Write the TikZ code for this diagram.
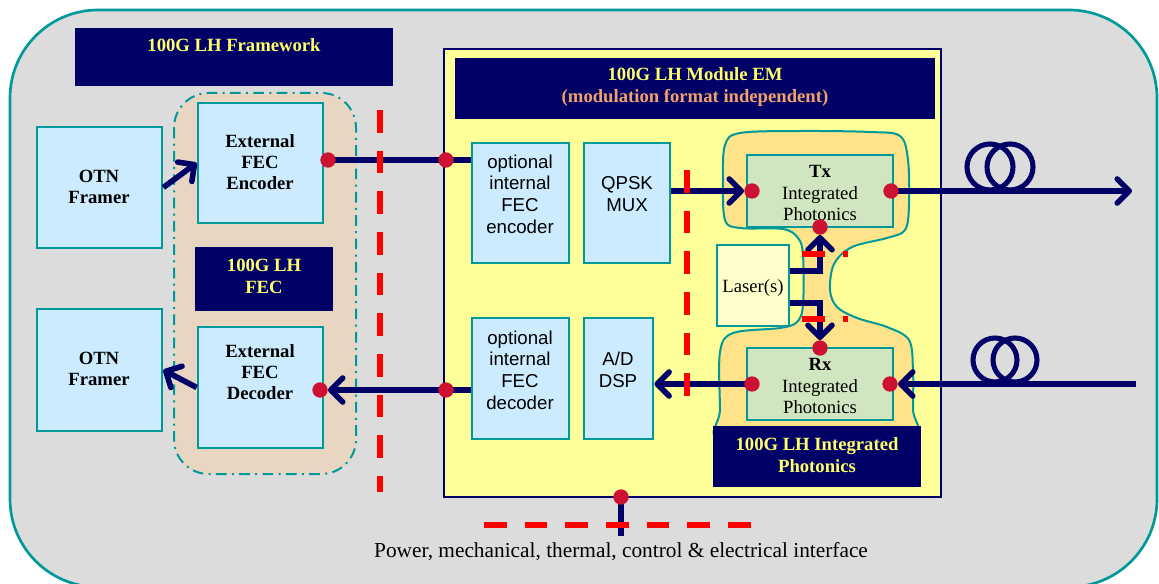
\documentclass[tikz,border=0pt]{standalone}
\usepackage{fontspec}
\setmainfont{Liberation Serif}
\newfontfamily\arialfont{Liberation Sans}
\usetikzlibrary{arrows.meta,fit,calc}
\definecolor{bggray}{HTML}{DCDCDC}
\definecolor{tealc}{HTML}{009999}
\definecolor{navyc}{HTML}{000066}
\definecolor{yelc}{HTML}{FFFF66}
\definecolor{salmonc}{HTML}{F4A06A}
\definecolor{lblue}{HTML}{CCEBFF}
\definecolor{tanc}{HTML}{E8D6C3}
\definecolor{modyel}{HTML}{FFFF99}
\definecolor{bloborange}{HTML}{FFE38A}
\definecolor{greenc}{HTML}{D0E6C0}
\definecolor{laserc}{HTML}{FFFFCC}
\definecolor{dotred}{HTML}{CC1133}
\definecolor{redc}{HTML}{FF0000}
\pgfdeclarelayer{front}
\pgfsetlayers{main,front}
\tikzset{
  bluebox/.style={draw=tealc, line width=2pt, fill=lblue, inner sep=0pt},
  greenbox/.style={draw=tealc, line width=2pt, fill=greenc, inner sep=0pt},
  navybox/.style={fill=navyc, inner sep=0pt},
  ytext/.style={text=yelc, font=\bfseries\fontsize{14pt}{16.5pt}\selectfont, align=center},
  btext/.style={font=\bfseries\fontsize{14pt}{16pt}\selectfont, align=center},
  stext/.style={font=\arialfont\fontsize{14pt}{16.3pt}\selectfont, align=center},
  rtext/.style={font=\fontsize{14pt}{16pt}\selectfont, align=center},
  conn/.style={draw=navyc, line width=4.2pt},
  arrowtip/.style={-{Straight Barb[length=9pt,width=18pt,round]}},
  reddot/.style={circle, fill=dotred, inner sep=0pt, minimum size=11.5pt},
  reddash/.style={draw=redc, line width=4pt, dash pattern=on 17pt off 13.5pt},
}
\begin{document}
\begin{tikzpicture}[x=0.75pt,y=-0.75pt]
\useasboundingbox (0,0) rectangle (1159,584);
% outer frame
\draw[draw=tealc, line width=2pt, fill=bggray, rounded corners=66pt] (10,10) rectangle (1157,587);
% framework title
\node[navybox, fit={(75,28)(393,86)}] (fwbox) {};
\node[ytext] (fwtext) at (234,45) {100G LH Framework};
% FEC region
\draw[draw=tealc, line width=1.5pt, fill=tanc, rounded corners=26pt,
  dash pattern=on 8pt off 4pt on 1.5pt off 4pt] (174,93) rectangle (356,474);
% OTN framers
\node[bluebox, fit={(37,127)(162,248)}] (otn1) {};
\node[btext] (otn1text) at (99,187) {OTN\\Framer};
\node[bluebox, fit={(37,309)(162,431)}] (otn2) {};
\node[btext] (otn2text) at (99,369) {OTN\\Framer};
% external FEC
\node[bluebox, fit={(198,103)(323,223)}] (extenc) {};
\node[btext] (extenctext) at (260,162) {External\\FEC\\Encoder};
\node[bluebox, fit={(198,327)(323,448)}] (extdec) {};
\node[btext] (extdectext) at (260,372) {External\\FEC\\Decoder};
\node[navybox, fit={(195,247)(333,311)}] (fecbox) {};
\node[ytext] (fectext) at (264,276) {100G LH\\FEC};
% module
\node[draw=navyc, line width=1.5pt, fill=modyel, inner sep=0pt, fit={(444,49)(941,497)}] (module) {};
\node[navybox, fit={(455,58)(935,119)}] (modtitlebox) {};
\node[font=\bfseries\fontsize{14pt}{17pt}\selectfont, align=center] (modtitle) at (695,87)
  {\textcolor{yelc}{100G LH Module EM}\\\textcolor{salmonc}{(modulation format independent)}};
% internal blocks
\node[bluebox, fit={(472,143)(569,263)}] (optenc) {};
\node[stext] (optenctext) at (520,194) {optional\\internal\\FEC\\encoder};
\node[bluebox, fit={(584,143)(670,263)}] (qpsk) {};
\node[stext] (qpsktext) at (627,194) {QPSK\\MUX};
\node[bluebox, fit={(472,318)(569,439)}] (optdec) {};
\node[stext] (optdectext) at (520,370) {optional\\internal\\FEC\\decoder};
\node[bluebox, fit={(584,318)(653,439)}] (adsp) {};
\node[stext] (adsptext) at (618,370) {A/D\\DSP};
% integrated photonics blob
\draw[draw=tealc, line width=1.5pt, fill=bloborange] plot[smooth cycle, tension=0.55] coordinates {
 (740,133) (800,131) (870,132) (900,136) (908,160) (909,205) (905,230) (887,238) (852,247)
 (834,264) (830,290) (837,307) (857,318) (887,327) (909,340) (913,370) (913,410) (913,440)
 (816,445) (720,440) (720,410) (720,352) (733,333) (780,328) (797,322) (803,305) (803,255)
 (798,238) (783,229) (740,228) (725,220) (723,180) (725,145)};
\node[greenbox, fit={(747,155)(893,227)}] (tx) {};
\node[rtext] (txtext) at (820,193) {\textbf{Tx}\\Integrated\\Photonics};
\node[greenbox, fit={(747,348)(893,420)}] (rx) {};
\node[rtext] (rxtext) at (820,386) {\textbf{Rx}\\Integrated\\Photonics};
\node[draw=tealc, line width=2pt, fill=laserc, inner sep=0pt, fit={(717,245)(789,326)}] (laser) {};
\node[rtext] (lasertext) at (753,288) {Laser(s)};
\node[navybox, fit={(713,426)(921,487)}] (ipbox) {};
\node[ytext] (iptext) at (817,455) {100G LH Integrated\\Photonics};
% dots (front layer)
\begin{pgfonlayer}{front}
\node[reddot] (d1) at (328,160) {};
\node[reddot] (d2) at (446,160) {};
\node[reddot] (d3) at (320,390) {};
\node[reddot] (d4) at (446,390) {};
\node[reddot] (txl) at (752,191) {};
\node[reddot] (txr) at (891,191) {};
\node[reddot] (txb) at (820,227) {};
\node[reddot] (rxt) at (820,348) {};
\node[reddot] (rxl) at (752,384) {};
\node[reddot] (rxr) at (890,384) {};
\node[reddot] (pdot) at (621,497) {};
\end{pgfonlayer}
\coordinate (txout) at (1132,191);
\coordinate (rxin) at (1136,384);
\coordinate (pend) at (621,536);
% connectors
\draw[conn, arrowtip] (otn1.east) -- (extenc.west);
\draw[conn, arrowtip] (extdec.west) -- (otn2.east);
\draw[conn] (d1.center) -- (optenc.west |- d1.center);
\draw[conn] (optdec.west |- d4.center) -- (d4.center);
\draw[conn, arrowtip] (d4.center) -- (d3);
\draw[conn, arrowtip] (qpsk.east |- txl.center) -- (txl);
\draw[conn, arrowtip] (txr.center) -- (txout);
\draw[conn, arrowtip] (rxin) -- (rxr);
\draw[conn, arrowtip] (rxl.center) -- (adsp.east |- rxl.center);
\draw[conn, arrowtip] ($(laser.east)+(0,-14.5)$) -| (txb);
\draw[conn, arrowtip] ($(laser.east)+(0,17.5)$) -| (rxt);
\draw[conn] (pdot.center) -- (pend);
% fiber coils
\draw[draw=navyc, line width=3.8pt] (990,167) circle[radius=23] (1010,167) circle[radius=23];
\draw[draw=navyc, line width=3.8pt] (995,360) circle[radius=22] (1015,360) circle[radius=22];
% red dashed interface lines
\draw[reddash] (380,110) -- (380,492);
\draw[reddash] (687,170) -- (687,405);
\draw[reddash] (802,254) -- (848,254);
\draw[reddash] (802,319) -- (848,319);
\draw[reddash] (484,525) -- (762,525);
% bottom caption
\node[font=\fontsize{16pt}{18pt}\selectfont] (powertext) at (621,552) {Power, mechanical, thermal, control \& electrical interface};
\end{tikzpicture}
\end{document}
